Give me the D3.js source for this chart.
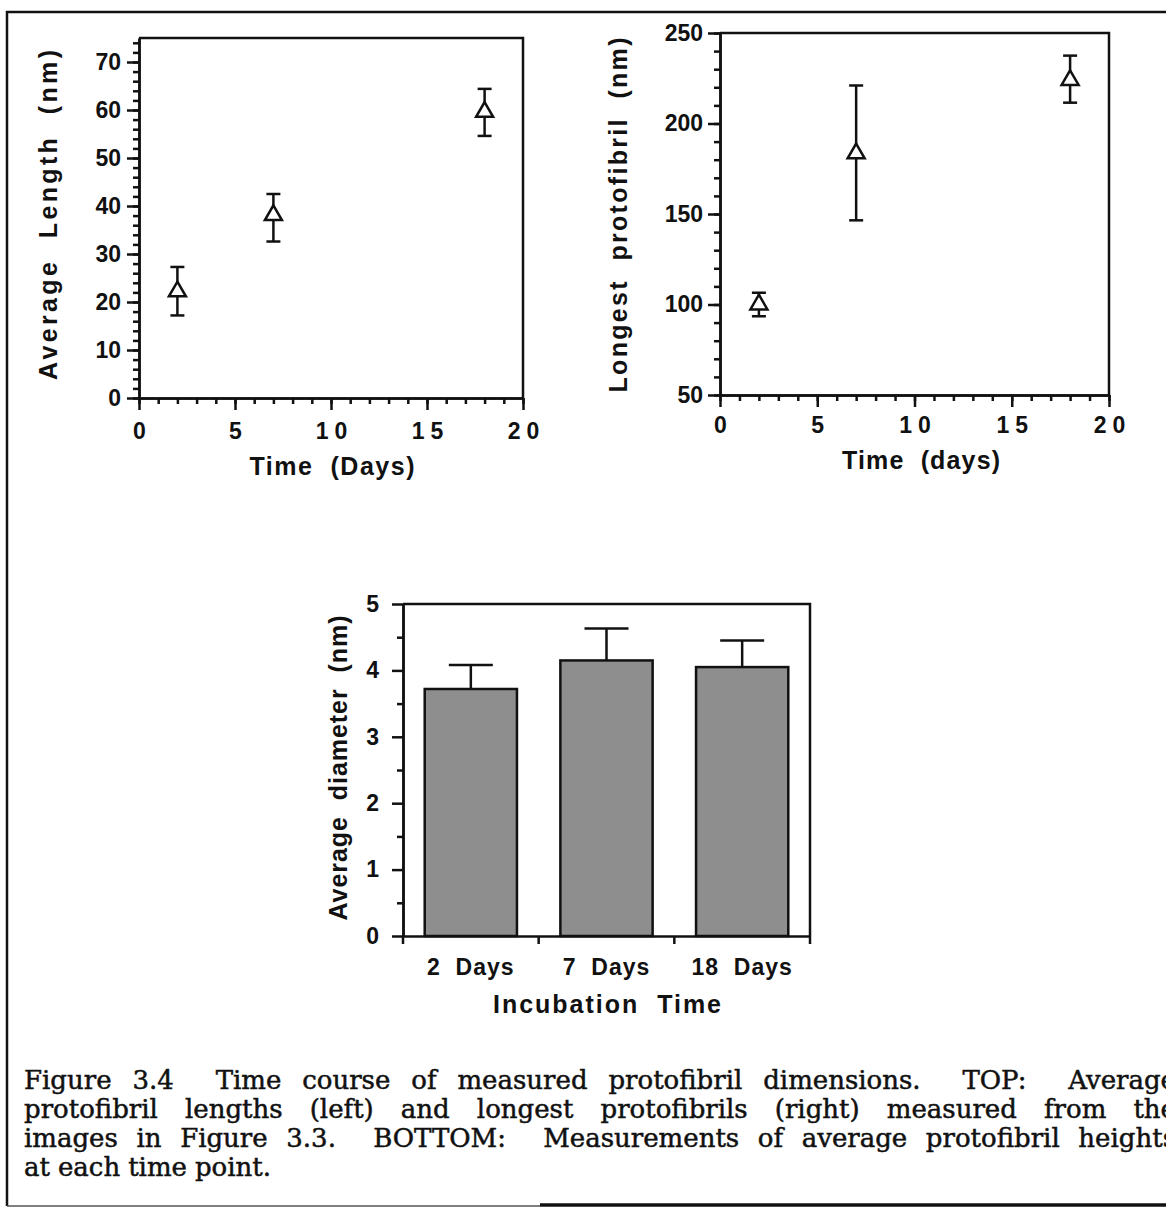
<!DOCTYPE html>
<html lang="en">
<head>
<meta charset="UTF-8">
<title>Figure 3.4</title>
<style>
  body { margin: 0; background: #fff; }
  svg text { font-family: "Liberation Sans", Arial, sans-serif; font-weight: bold; fill: #111; white-space: pre; }
  .axis path, .axis line { stroke: #111; stroke-width: 2.5; }
  .axis text { font-size: 23px; }
  .frame { fill: none; stroke: #111; stroke-width: 2.5; }
  .title { font-size: 25px; }
  .caption text { font-family: "DejaVu Serif", serif; font-weight: normal; font-size: 26px; fill: #111; stroke: #111; stroke-width: 0.5; }
</style>
</head>
<body>
<script src="https://d3js.org/d3.v7.min.js"></script>
<script>
// top left: average length (nm) vs time (days)
var lenDays = [2, 7, 18];
var lenMean = [22.2, 38.1, 59.6];
var lenLow = [17.2, 32.6, 54.6];
var lenHigh = [27.3, 42.5, 64.4];

// top right: longest protofibril (nm) vs time (days)
var longDays = [2, 7, 18];
var longMean = [100, 183.5, 224];
var longLow = [93.5, 146.5, 211.5];
var longHigh = [106.5, 221, 237.5];

// bottom: average diameter (nm) per incubation time
var diaCats = ["2  Days", "7  Days", "18  Days"];
var diaMean = [3.72, 4.15, 4.05];
var diaErr = [0.36, 0.48, 0.40];

var timeTicks = [0, 5, 10, 15, 20];
var lenTicks = [0, 10, 20, 30, 40, 50, 60, 70];
var longTicks = [50, 100, 150, 200, 250];
var diaTicks = [0, 1, 2, 3, 4, 5];

var captionLines = [
    "Figure 3.4  Time course of measured protofibril dimensions.  TOP:  Average",
    "protofibril lengths (left) and longest protofibrils (right) measured from the",
    "images in Figure 3.3.  BOTTOM:  Measurements of average protofibril heights",
    "at each time point."
];

var W = 1166, H = 1213;
var svg = d3.select("body").append("svg")
    .attr("width", W)
    .attr("height", H);

// outer figure border (runs off the right edge)
svg.append("path").attr("class", "frame")
    .attr("d", "M1180,12 H7 V1206");
svg.append("line").attr("x1", 7).attr("x2", 540).attr("y1", 1206).attr("y2", 1206)
    .attr("stroke", "#555").attr("stroke-width", 1.5);
svg.append("line").attr("x1", 540).attr("x2", 1180).attr("y1", 1205).attr("y2", 1205)
    .attr("stroke", "#111").attr("stroke-width", 3.5);

function scatterPanel(p) {
    var x = d3.scaleLinear().domain([0, 20]).range([p.left, p.right]);
    var y = d3.scaleLinear().domain(p.yDomain).range([p.bottom, p.top]);
    var g = svg.append("g");

    // top and right edges of the box
    g.append("path").attr("class", "frame")
        .attr("d", "M" + x(0) + "," + y(p.yDomain[1]) + " H" + x(20) + " V" + y(p.yDomain[0]));

    // minor ticks
    g.append("g").attr("class", "axis")
        .attr("transform", "translate(" + x(0) + ",0)")
        .call(d3.axisLeft(y).tickValues(p.yMinor).tickSize(6).tickSizeOuter(0).tickFormat(""));
    g.append("g").attr("class", "axis")
        .attr("transform", "translate(0," + y(p.yDomain[0]) + ")")
        .call(d3.axisBottom(x).tickValues(d3.range(0, 21, 1)).tickSize(6).tickSizeOuter(0).tickFormat(""));

    // major ticks with labels
    g.append("g").attr("class", "axis")
        .attr("transform", "translate(" + x(0) + ",0)")
        .call(d3.axisLeft(y).tickValues(p.yTicks).tickSize(12).tickSizeOuter(0).tickPadding(p.yPad));
    var xa = g.append("g").attr("class", "axis")
        .attr("transform", "translate(0," + y(p.yDomain[0]) + ")")
        .call(d3.axisBottom(x).tickValues(timeTicks).tickSize(12).tickSizeOuter(0).tickPadding(p.xPad));
    xa.selectAll("text")
        .style("letter-spacing", function(d) { return d >= 10 ? "6px" : "0px"; })
        .attr("dx", function(d) { return d >= 10 ? "3px" : "0px"; });

    // error bars
    var cap = 7;
    var eb = g.append("g").attr("stroke", "#111").attr("stroke-width", 2.5);
    p.days.forEach(function(d, i) {
        eb.append("line").attr("x1", x(d)).attr("x2", x(d)).attr("y1", y(p.low[i])).attr("y2", y(p.high[i]));
        eb.append("line").attr("x1", x(d) - cap).attr("x2", x(d) + cap).attr("y1", y(p.low[i])).attr("y2", y(p.low[i]));
        eb.append("line").attr("x1", x(d) - cap).attr("x2", x(d) + cap).attr("y1", y(p.high[i])).attr("y2", y(p.high[i]));
    });

    // open triangles
    g.selectAll(".pt")
        .data(p.days)
        .enter().append("path")
        .attr("class", "pt")
        .attr("d", d3.symbol().type(d3.symbolTriangle).size(125))
        .attr("transform", function(d, i) { return "translate(" + x(d) + "," + y(p.mean[i]) + ")"; })
        .attr("fill", "#fff")
        .attr("stroke", "#111")
        .attr("stroke-width", 2.5);

    // axis titles
    g.append("text").attr("class", "title")
        .attr("text-anchor", "middle")
        .attr("x", p.xTitle[0]).attr("y", p.xTitle[1])
        .attr("textLength", p.xTitle[2]).attr("lengthAdjust", "spacing")
        .text(p.xLabel);
    g.append("text").attr("class", "title")
        .attr("text-anchor", "middle")
        .attr("transform", "translate(" + p.yTitle[0] + "," + p.yTitle[1] + ") rotate(-90)")
        .attr("textLength", p.yTitle[2]).attr("lengthAdjust", "spacing")
        .text(p.yLabel);
}

scatterPanel({
    left: 139, right: 523, top: 38, bottom: 398,
    yDomain: [0, 75], yTicks: lenTicks, yMinor: d3.range(0, 76, 2),
    yPad: 6, xPad: 13,
    days: lenDays, mean: lenMean, low: lenLow, high: lenHigh,
    xLabel: "Time  (Days)", xTitle: [332, 475, 165],
    yLabel: "Average  Length  (nm)", yTitle: [57, 215, 330]
});

scatterPanel({
    left: 720, right: 1109, top: 33, bottom: 395,
    yDomain: [50, 250], yTicks: longTicks, yMinor: d3.range(50, 251, 10),
    yPad: 5, xPad: 10,
    days: longDays, mean: longMean, low: longLow, high: longHigh,
    xLabel: "Time  (days)", xTitle: [921, 469, 158],
    yLabel: "Longest  protofibril  (nm)", yTitle: [627, 215, 355]
});

// bottom bar chart
(function() {
    var left = 403, right = 810, top = 604, bottom = 936;
    var x = d3.scaleBand().domain(diaCats).range([left, right]).paddingInner(0.32).paddingOuter(0.16);
    var y = d3.scaleLinear().domain([0, 5]).range([bottom, top]);
    var g = svg.append("g");

    g.append("path").attr("class", "frame")
        .attr("d", "M" + left + "," + y(5) + " H" + right + " V" + y(0));

    g.append("g").attr("class", "axis")
        .attr("transform", "translate(" + left + ",0)")
        .call(d3.axisLeft(y).tickValues(d3.range(0.5, 5, 1)).tickSize(6).tickSizeOuter(0).tickFormat(""));
    g.append("g").attr("class", "axis")
        .attr("transform", "translate(" + left + ",0)")
        .call(d3.axisLeft(y).tickValues(diaTicks).tickFormat(d3.format("d"))
            .tickSize(11).tickSizeOuter(0).tickPadding(13));

    // x axis: labels under bar centres, ticks on the band boundaries
    var xa = g.append("g").attr("class", "axis")
        .attr("transform", "translate(0," + bottom + ")")
        .call(d3.axisBottom(x).tickSize(0).tickSizeOuter(0).tickPadding(23));
    xa.selectAll("text").style("letter-spacing", "1px");
    var step = x.step();
    g.append("g").attr("stroke", "#111").attr("stroke-width", 2.5)
        .selectAll("line")
        .data(d3.range(0, diaCats.length + 1))
        .enter().append("line")
        .attr("x1", function(i) { return left + i * step; })
        .attr("x2", function(i) { return left + i * step; })
        .attr("y1", bottom).attr("y2", bottom + 8);

    // error bars (upper half only)
    var cap = 22;
    var eb = g.append("g").attr("stroke", "#111").attr("stroke-width", 2.5);
    diaCats.forEach(function(c, i) {
        var cx = x(c) + x.bandwidth() / 2;
        eb.append("line").attr("x1", cx).attr("x2", cx).attr("y1", y(diaMean[i])).attr("y2", y(diaMean[i] + diaErr[i]));
        eb.append("line").attr("x1", cx - cap).attr("x2", cx + cap)
            .attr("y1", y(diaMean[i] + diaErr[i])).attr("y2", y(diaMean[i] + diaErr[i]));
    });

    g.selectAll(".bar")
        .data(diaCats)
        .enter().append("rect")
        .attr("class", "bar")
        .attr("x", function(d) { return x(d); })
        .attr("y", function(d, i) { return y(diaMean[i]); })
        .attr("width", x.bandwidth())
        .attr("height", function(d, i) { return y(0) - y(diaMean[i]); })
        .attr("fill", "#8e8e8e")
        .attr("stroke", "#111")
        .attr("stroke-width", 2.5);

    g.append("text").attr("class", "title")
        .attr("text-anchor", "middle")
        .attr("x", 607).attr("y", 1013)
        .attr("textLength", 228).attr("lengthAdjust", "spacing")
        .text("Incubation  Time");
    g.append("text").attr("class", "title")
        .attr("text-anchor", "middle")
        .attr("transform", "translate(347,768) rotate(-90)")
        .attr("textLength", 305).attr("lengthAdjust", "spacing")
        .text("Average  diameter  (nm)");
})();

// caption, justified to a right edge beyond the crop
var cap = svg.append("g").attr("class", "caption");
captionLines.forEach(function(line, li) {
    var yy = 1089 + li * 29;
    var words = line.split(/ +/);
    var gaps = line.match(/ +/g) || [];
    var nodes = words.map(function(w) {
        return cap.append("text").attr("y", yy).text(w);
    });
    var widths = nodes.map(function(n) { return n.node().getComputedTextLength(); });
    var x0 = 24;
    var unit = 8;
    if (li < captionLines.length - 1) {
        var total = d3.sum(widths);
        var units = d3.sum(gaps, function(s) { return s.length; });
        unit = (1176 - x0 - total) / units;
    }
    var xx = x0;
    nodes.forEach(function(n, i) {
        n.attr("x", xx);
        xx += widths[i] + (i < gaps.length ? gaps[i].length * unit : 0);
    });
});
</script>
</body>
</html>
